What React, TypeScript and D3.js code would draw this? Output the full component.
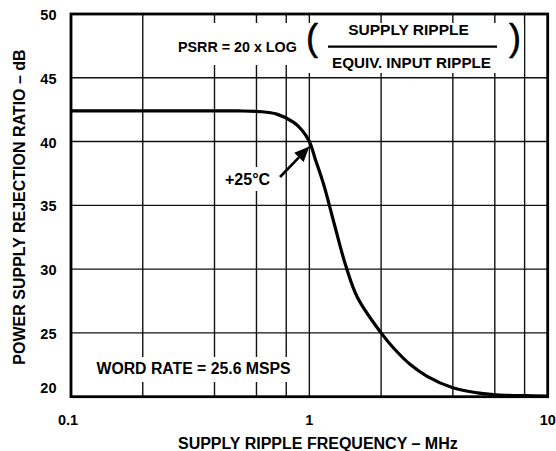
import * as d3 from 'd3'

// PSRR vs supply ripple frequency
const freqMHz = [0.1, 0.2, 0.35, 0.5, 0.62, 0.73, 0.86, 0.93, 1.0, 1.06, 1.15, 1.27, 1.42, 1.59, 2.0, 2.26, 2.66, 3.12, 4.0, 5.07, 6.1, 8.0, 10.0]
const psrrDb = [42.4, 42.4, 42.4, 42.4, 42.35, 42.15, 41.5, 40.9, 40.0, 38.6, 36.6, 33.6, 30.3, 27.8, 25.0, 23.8, 22.5, 21.6, 20.7, 20.3, 20.15, 20.08, 20.05]

const yTicks = [20, 25, 30, 35, 40, 45, 50]
const xTicks = [0.1, 1, 10]
const xTickLabels = ['0.1', '1', '10']
const xGrid = [0.2, 0.4, 0.6, 0.8, 1, 2, 4, 6, 8]

const W = 556
const H = 451
const margin = { top: 14, right: 8.3, bottom: 54.3, left: 71 }
const font = '"Liberation Sans", Arial, Helvetica, sans-serif'

export default function App() {
  const x = d3.scaleLog().domain([0.1, 10]).range([margin.left, W - margin.right])
  const y = d3.scaleLinear().domain([20, 50]).range([H - margin.bottom, margin.top])

  const line = d3
    .line<number>()
    .x((_, i) => x(freqMHz[i]))
    .y(d => y(d))
    .curve(d3.curveCatmullRom.alpha(0.5))

  const x0 = x.range()[0]
  const x1 = x.range()[1]
  const yTop = y.range()[1]
  const yBot = y.range()[0]

  // arrow from label to the curve at 1 MHz
  const tip: [number, number] = [x(1), y(40) + 5]
  const tail: [number, number] = [280, 177]
  const ang = Math.atan2(tip[1] - tail[1], tip[0] - tail[0])
  const headLen = 15
  const headW = 6.5
  const bx = tip[0] - headLen * Math.cos(ang)
  const by = tip[1] - headLen * Math.sin(ang)
  const head = [
    tip,
    [bx + headW * Math.sin(ang), by - headW * Math.cos(ang)],
    [bx - headW * Math.sin(ang), by + headW * Math.cos(ang)]
  ].map(p => p.join(',')).join(' ')

  return (
    <svg
      width={W}
      height={H}
      style={{ position: 'absolute', left: 0, top: 0, background: '#fff' }}
      fontFamily={font}
      fontWeight="bold"
    >
      {/* grid */}
      {xGrid.map(v => (
        <line key={'gx' + v} x1={x(v)} x2={x(v)} y1={yTop} y2={yBot} stroke="#111" strokeWidth={1.4} />
      ))}
      {yTicks.map(v => (
        <line key={'gy' + v} x1={x0} x2={x1} y1={y(v)} y2={y(v)} stroke="#111" strokeWidth={1.4} />
      ))}

      {/* label backgrounds */}
      <rect x={174} y={23} width={128} height={42} fill="#fff" />
      <rect x={302} y={23} width={222} height={50} fill="#fff" />
      <rect x={222} y={167} width={52} height={24} fill="#fff" />
      <rect x={93} y={357} width={203} height={25} fill="#fff" />

      {/* formula */}
      <text x={178} y={51.5} fontSize={14.3} fill="#000">PSRR = 20 x LOG</text>
      <text x={306} y={49.5} fontSize={36} fontWeight="normal" fill="#000" stroke="#000" strokeWidth={0.5}>(</text>
      <text x={509} y={49.5} fontSize={36} fontWeight="normal" fill="#000" stroke="#000" strokeWidth={0.5}>)</text>
      <text x={408.5} y={35} fontSize={15.5} textAnchor="middle" fill="#000">SUPPLY RIPPLE</text>
      <line x1={328} x2={497} y1={46.7} y2={46.7} stroke="#000" strokeWidth={2.2} />
      <text x={411.5} y={68} fontSize={15.2} textAnchor="middle" fill="#000">EQUIV. INPUT RIPPLE</text>

      {/* temperature label + arrow */}
      <text x={225} y={185} fontSize={16} fill="#000">+25°C</text>
      <line x1={tail[0]} y1={tail[1]} x2={bx} y2={by} stroke="#000" strokeWidth={2.6} />
      <polygon points={head} fill="#000" />

      <text x={96.5} y={374} fontSize={15.8} fill="#000">WORD RATE = 25.6 MSPS</text>

      {/* curve */}
      <path d={line(psrrDb) ?? ''} fill="none" stroke="#000" strokeWidth={3.2} strokeLinejoin="round" />

      {/* frame */}
      <rect x={x0} y={yTop} width={x1 - x0} height={yBot - yTop} fill="none" stroke="#000" strokeWidth={2.8} />

      {/* y tick labels */}
      {yTicks.map((v, i) => (
        <text key={'yl' + v} x={56.5} y={y(v) + (i === 0 ? -3.5 : 6)} fontSize={14.5} textAnchor="end" fill="#000">
          {v}
        </text>
      ))}

      {/* x tick labels */}
      {xTicks.map((v, i) => (
        <text key={'xl' + v} x={x(v) + (i === 0 ? -3 : 0)} y={425} fontSize={14.5} textAnchor="middle" fill="#000">
          {xTickLabels[i]}
        </text>
      ))}

      {/* axis titles */}
      <text x={(x0 + x1) / 2 + 8.5} y={449} fontSize={16} textAnchor="middle" fill="#000">
        SUPPLY RIPPLE FREQUENCY – MHz
      </text>
      <text transform="translate(24.5,207) rotate(-90)" fontSize={16} textAnchor="middle" fill="#000">
        POWER SUPPLY REJECTION RATIO – dB
      </text>
    </svg>
  )
}
